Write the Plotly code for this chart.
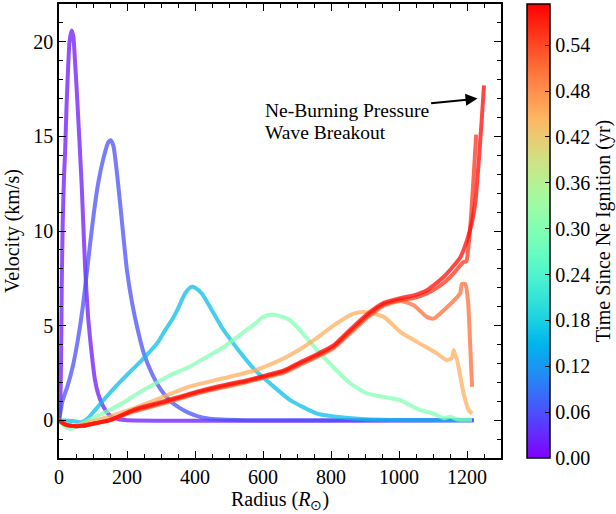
import numpy as np
import plotly.graph_objects as go
from plotly.colors import sample_colorscale

# ---------------- data ----------------
times = [0.018, 0.06, 0.16, 0.30, 0.45, 0.51, 0.555, 0.585]

x_t0 = [0, 3, 6, 8, 11, 15, 18, 22, 26, 31, 37, 42, 47, 52, 60, 67, 77, 85, 91, 100, 106, 115, 126, 140, 155, 175, 200, 1220]
v_t0 = [0, 0.5, 3, 7, 10.5, 13, 14.2, 16.5, 18.3, 20, 20.6, 20.3, 19, 17.5, 14.8, 12.3, 8, 5.6, 4.4, 2.9, 2.1, 1.4, 0.88, 0.45, 0.18, 0.05, 0, 0]

x_t1 = [0, 5, 10, 25, 40, 55, 70, 85, 100, 115, 130, 145, 152, 160, 175, 190, 200, 215, 230, 250, 275, 300, 325, 350, 380, 420, 480, 550, 1220]
v_t1 = [0, 0.5, 1.0, 1.8, 2.8, 4.2, 6.0, 8.3, 10.6, 12.5, 13.8, 14.7, 14.8, 14.5, 12.3, 9.6, 7.9, 6.2, 4.9, 3.5, 2.4, 1.6, 1.05, 0.7, 0.4, 0.15, 0.03, 0, 0]

x_t2 = [0, 40, 67, 85, 106, 140, 184, 220, 253, 290, 312, 332, 350, 371, 385, 392, 400, 420, 450, 479, 528, 577, 621, 680, 759, 817, 880, 950, 1050, 1215]
v_t2 = [0, -0.05, -0.1, 0.1, 0.53, 1.25, 2.1, 2.75, 3.35, 4.1, 4.75, 5.3, 5.9, 6.7, 7.0, 7.05, 7.0, 6.7, 5.8, 4.9, 3.7, 2.64, 1.94, 1.06, 0.35, 0.18, 0.08, 0.02, 0, 0]

x_t3 = [0, 15, 32, 50, 86, 140, 184, 230, 283, 330, 381, 430, 479, 538, 577, 600, 626, 650, 680, 709, 759, 807, 857, 906, 955, 1004, 1033, 1063, 1102, 1131, 1151, 1170, 1190, 1215]
v_t3 = [0, -0.3, -0.45, -0.35, 0, 0.45, 0.88, 1.4, 1.94, 2.4, 2.8, 3.3, 3.8, 4.58, 5.1, 5.45, 5.58, 5.5, 5.28, 4.75, 3.7, 2.8, 1.94, 1.41, 1.23, 1.06, 0.79, 0.53, 0.35, 0.1, 0.18, 0.05, 0.02, 0.02]

x_t4 = [0, 15, 30, 60, 100, 150, 200, 283, 381, 480, 577, 660, 709, 759, 807, 866, 896, 955, 1004, 1053, 1112, 1141, 1156, 1161, 1166, 1171, 1190, 1205, 1215]
v_t4 = [0, -0.2, -0.3, -0.25, -0.05, 0.2, 0.5, 1.06, 1.76, 2.2, 2.64, 3.26, 3.75, 4.35, 5.0, 5.63, 5.72, 5.46, 4.67, 4.14, 3.52, 3.17, 3.3, 3.7, 3.4, 3.17, 1.41, 0.53, 0.35]

x_t5 = [0, 15, 35, 70, 110, 150, 219, 300, 415, 480, 550, 611, 660, 709, 760, 807, 857, 906, 955, 1004, 1043, 1082, 1102, 1131, 1171, 1180, 1185, 1195, 1203, 1210, 1215]
v_t5 = [0, -0.2, -0.3, -0.3, -0.15, 0, 0.45, 0.85, 1.45, 1.72, 2.0, 2.28, 2.5, 2.92, 3.35, 3.8, 4.6, 5.4, 6.05, 6.3, 6.07, 5.46, 5.37, 5.8, 6.5, 6.7, 7.2, 7.2, 6.3, 3.7, 1.76]

x_t6 = [0, 15, 35, 70, 110, 150, 219, 300, 415, 480, 550, 611, 660, 709, 760, 807, 857, 906, 955, 1004, 1043, 1082, 1120, 1151, 1190, 1198, 1205, 1212, 1220, 1227]
v_t6 = [0, -0.2, -0.3, -0.3, -0.15, 0, 0.5, 0.9, 1.5, 1.78, 2.05, 2.33, 2.56, 3.0, 3.42, 3.87, 4.7, 5.5, 6.12, 6.35, 6.45, 6.7, 7.1, 7.57, 8.36, 8.4, 9.33, 10.8, 13.0, 15.1]

x_t7 = [0, 15, 35, 70, 110, 150, 219, 300, 415, 480, 550, 611, 660, 709, 760, 807, 857, 906, 955, 1004, 1043, 1082, 1131, 1180, 1200, 1215, 1225, 1235, 1243, 1250]
v_t7 = [0, -0.2, -0.3, -0.3, -0.15, 0, 0.55, 0.95, 1.55, 1.83, 2.1, 2.38, 2.62, 3.06, 3.5, 3.95, 4.8, 5.6, 6.2, 6.45, 6.6, 6.87, 7.57, 8.6, 9.5, 10.5, 11.6, 13.8, 15.8, 17.7]

series_x = [x_t0, x_t1, x_t2, x_t3, x_t4, x_t5, x_t6, x_t7]
series_v = [v_t0, v_t1, v_t2, v_t3, v_t4, v_t5, v_t6, v_t7]

cbar_ticks = [0.00, 0.06, 0.12, 0.18, 0.24, 0.30, 0.36, 0.42, 0.48, 0.54]
t_min, t_max = 0.0, 0.594

annot_lines = ["Ne-Burning Pressure", "Wave Breakout"]

# ---------------- colours (matplotlib 'rainbow') ----------------
def rainbow(u):
    r = min(1.0, abs(2 * u - 0.5))
    g = np.sin(np.pi * u)
    b = np.cos(np.pi * u / 2)
    return "rgb(%d,%d,%d)" % (round(255 * r), round(255 * max(g, 0)), round(255 * max(b, 0)))

stops = np.linspace(0, 1, 21)
cscale = [[float(s), rainbow(s)] for s in stops]

FONT = "Liberation Serif, Times New Roman, Times, serif"

W, H = 616, 514
L, R, T, B = 59, 115, 4, 56
plot_w = W - L - R

fig = go.Figure()
for t, xs, vs in zip(times, series_x, series_v):
    col = sample_colorscale(cscale, [(t - t_min) / (t_max - t_min)])[0]
    fig.add_trace(go.Scatter(x=xs, y=vs, mode="lines",
                             line=dict(color=col, width=4, shape="spline", smoothing=0.6),
                             opacity=0.75, showlegend=False, hoverinfo="skip"))

fig.add_trace(go.Scatter(
    x=[None], y=[None], mode="markers", showlegend=False,
    marker=dict(colorscale=cscale, cmin=t_min, cmax=t_max, color=[t_min], showscale=True,
                colorbar=dict(
                    x=1 + (526.5 - (W - R)) / plot_w, xanchor="left",
                    y=0.5, yanchor="middle", len=1.0, lenmode="fraction", xpad=0, ypad=0,
                    thickness=23, outlinewidth=1.5, outlinecolor="black",
                    tickvals=cbar_ticks, ticktext=["%.2f" % v for v in cbar_ticks],
                    ticks="inside", ticklen=5, tickcolor="black", tickwidth=1.2,
                    tickfont=dict(family=FONT, size=20, color="black"),
                    title=dict(text="Time Since Ne Ignition (yr)", side="right",
                               font=dict(family=FONT, size=20, color="black")),
                ))))

axis_common = dict(showline=True, linecolor="black", linewidth=1.5, mirror="ticks",
                   ticks="inside", ticklen=7, tickwidth=1.3, tickcolor="black",
                   showgrid=False, zeroline=False, automargin=False,
                   tickfont=dict(family=FONT, size=20, color="black"))

fig.update_xaxes(range=[0, 1300], tick0=0, dtick=200,
                 minor=dict(dtick=50, ticks="inside", ticklen=4, tickcolor="black", tickwidth=1.1, showgrid=False),
                 title=dict(text="Radius (<i>R</i><sub>⊙</sub>)", font=dict(family=FONT, size=20, color="black"), standoff=4),
                 **axis_common)
fig.update_yaxes(range=[-2, 22], tick0=0, dtick=5,
                 minor=dict(dtick=1, ticks="inside", ticklen=4, tickcolor="black", tickwidth=1.1, showgrid=False),
                 title=dict(text="Velocity (km/s)", font=dict(family=FONT, size=20, color="black"), standoff=8),
                 **axis_common)

for txt, yy in zip(annot_lines, [16.38, 15.22]):
    fig.add_annotation(x=600, y=yy, xref="x", yref="y", xanchor="left", yanchor="middle", align="left",
                       text=txt, showarrow=False, font=dict(family=FONT, size=19.5, color="black"))
fig.add_annotation(x=1231, y=17.0, xref="x", yref="y", ax=1090, ay=16.75, axref="x", ayref="y",
                   text="", showarrow=True, arrowhead=2, arrowsize=1.2, arrowwidth=2, arrowcolor="black")

fig.update_layout(width=W, height=H, margin=dict(l=L, r=R, t=T, b=B, autoexpand=False),
                  plot_bgcolor="white", paper_bgcolor="white",
                  font=dict(family=FONT, color="black"))

fig.write_html("out.html", config={"displayModeBar": False},
               post_script="document.body.style.margin='0px';")
